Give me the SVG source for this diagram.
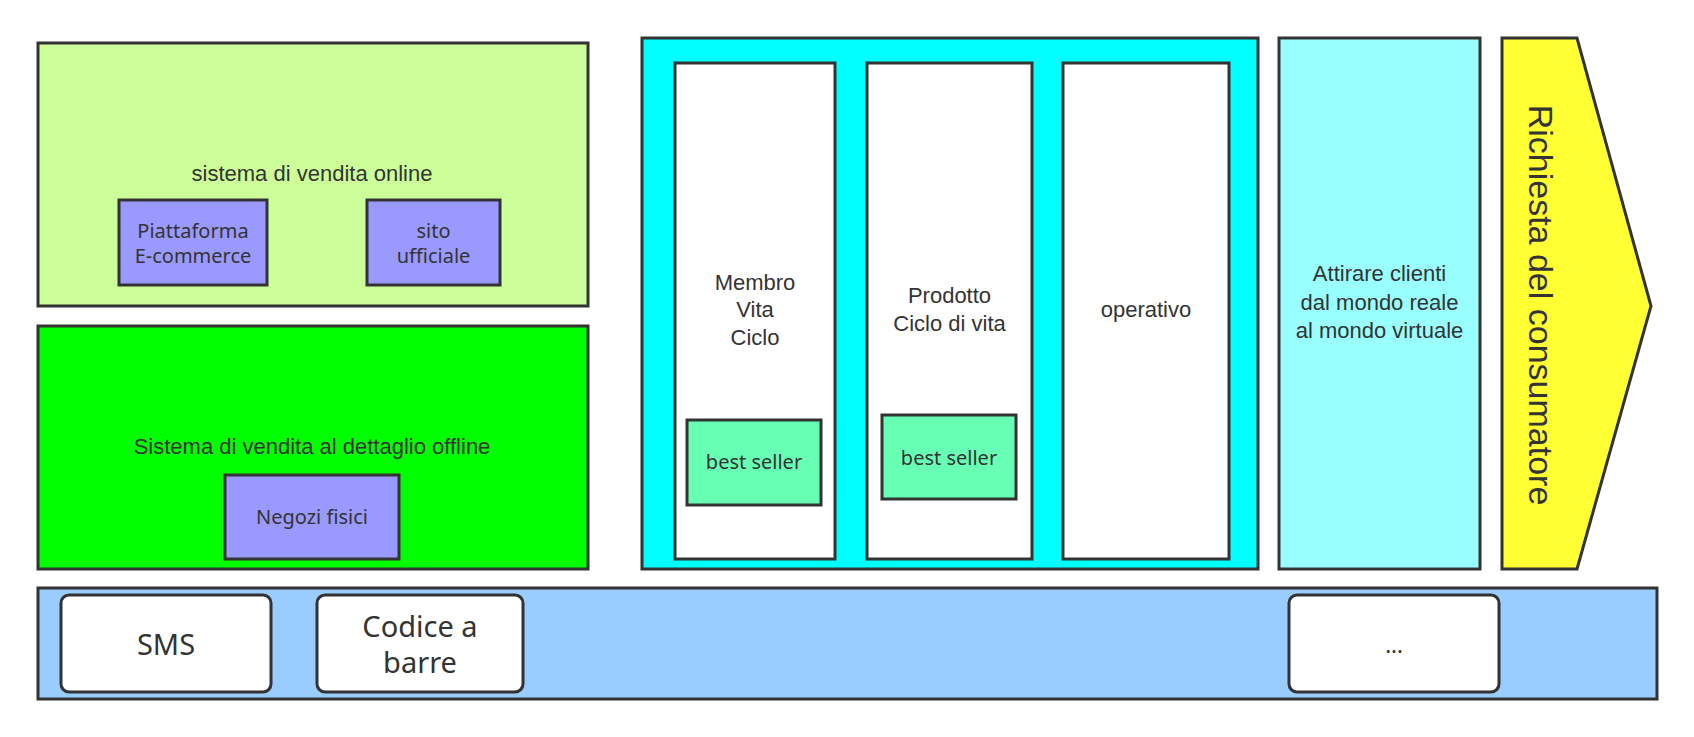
<svg xmlns="http://www.w3.org/2000/svg" width="1694" height="737" viewBox="0 0 1694 737">
<style>
.b{stroke:#333;stroke-width:3}
.h{font-family:"Liberation Sans",Arial,sans-serif;font-size:22px;fill:#333;text-anchor:middle}
.s{font-family:"Noto Sans","Open Sans",sans-serif;font-size:20px;fill:#333;text-anchor:middle}
.l{font-family:"Noto Sans","Open Sans",sans-serif;font-size:29px;fill:#333;text-anchor:middle}
</style>
<rect width="1694" height="737" fill="#fff"/>
<g id="online">
<rect class="b" x="38" y="43" width="550" height="263" fill="#CCFF99"/>
<text class="h" x="312" y="181">sistema di vendita online</text>
</g>
<g id="piattaforma">
<rect class="b" x="119" y="200" width="148" height="85" fill="#9999FF"/>
<text class="s" x="193" y="237.5">Piattaforma</text>
<text class="s" x="193" y="262.5">E-commerce</text>
</g>
<g id="sito">
<rect class="b" x="367" y="200" width="133" height="85" fill="#9999FF"/>
<text class="s" x="433.5" y="237.5">sito</text>
<text class="s" x="433.5" y="262.5">ufficiale</text>
</g>
<g id="offline">
<rect class="b" x="38" y="326" width="550" height="243" fill="#00FF00"/>
<text class="h" x="312" y="454">Sistema di vendita al dettaglio offline</text>
</g>
<g id="negozi">
<rect class="b" x="225" y="475" width="174" height="84" fill="#9999FF"/>
<text class="s" x="312" y="524">Negozi fisici</text>
</g>
<g id="ciclo">
<rect class="b" x="642" y="38" width="616" height="531" fill="#00FFFF"/>
</g>
<g id="membro">
<rect class="b" x="675" y="63" width="160" height="496" fill="#fff"/>
<text class="h" x="755" y="289.5">Membro</text>
<text class="h" x="755" y="317">Vita</text>
<text class="h" x="755" y="344.5">Ciclo</text>
</g>
<g id="best1">
<rect class="b" x="687" y="420" width="134" height="85" fill="#66FFB3"/>
<text class="s" x="754" y="469">best seller</text>
</g>
<g id="prodotto">
<rect class="b" x="867" y="63" width="165" height="496" fill="#fff"/>
<text class="h" x="949.5" y="303">Prodotto</text>
<text class="h" x="949.5" y="330.5">Ciclo di vita</text>
</g>
<g id="best2">
<rect class="b" x="882" y="415" width="134" height="84" fill="#66FFB3"/>
<text class="s" x="949" y="464.5">best seller</text>
</g>
<g id="operativo">
<rect class="b" x="1063" y="63" width="166" height="496" fill="#fff"/>
<text class="h" x="1146" y="317">operativo</text>
</g>
<g id="attirare">
<rect class="b" x="1279" y="38" width="201" height="531" fill="#99FFFF"/>
<text class="h" x="1379.5" y="281">Attirare clienti</text>
<text class="h" x="1379.5" y="309.5">dal mondo reale</text>
<text class="h" x="1379.5" y="338">al mondo virtuale</text>
</g>
<g id="richiesta">
<polygon class="b" points="1502,38 1577,38 1651,306 1577,569 1502,569" fill="#FFFF33"/>
<text class="h" style="font-size:34px" transform="translate(1529,305) rotate(90)" x="0" y="0">Richiesta del consumatore</text>
</g>
<g id="canali">
<rect class="b" x="38" y="588" width="1619" height="111" fill="#99CCFF"/>
</g>
<g id="sms">
<rect class="b" x="61" y="595" width="210" height="97" rx="8" fill="#fff"/>
<text class="l" x="166" y="654.5">SMS</text>
</g>
<g id="codice">
<rect class="b" x="317" y="595" width="206" height="97" rx="8" fill="#fff"/>
<text class="l" x="420" y="637">Codice a</text>
<text class="l" x="420" y="672.5">barre</text>
</g>
<g id="altro">
<rect class="b" x="1289" y="595" width="210" height="97" rx="8" fill="#fff"/>
<text class="s" style="font-size:22px" x="1394" y="653">...</text>
</g>
<g id="connectors"/>
</svg>
